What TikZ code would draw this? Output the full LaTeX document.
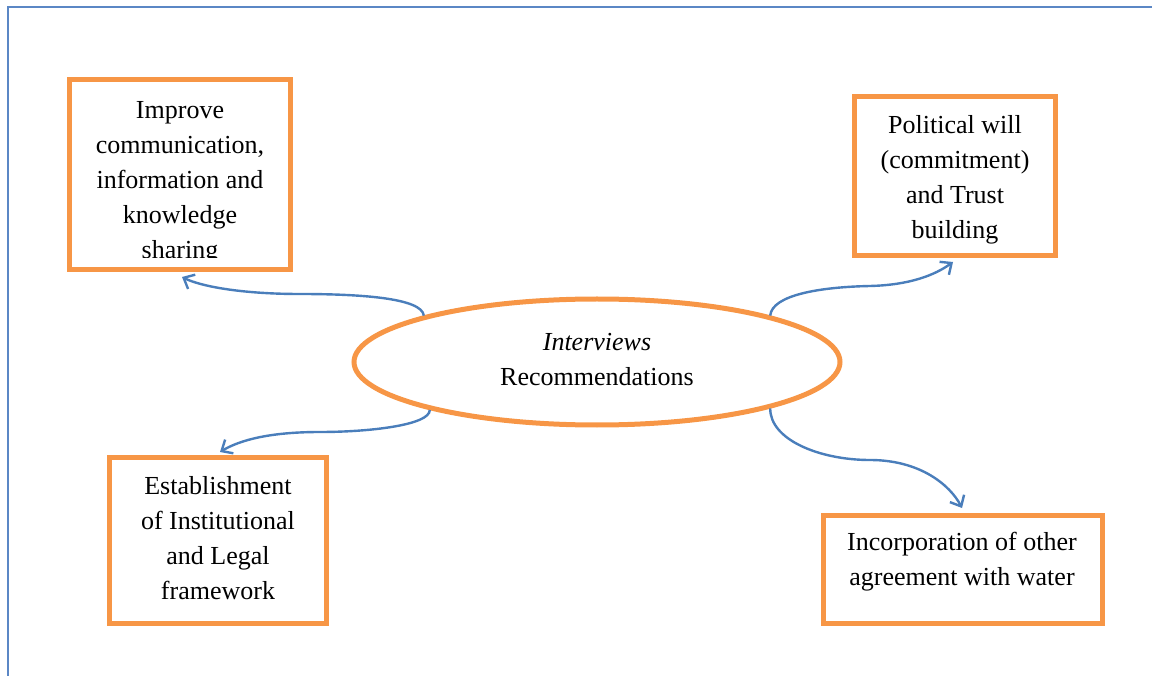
\documentclass[tikz,border=0pt]{standalone}
\usepackage{fontspec}
\setmainfont{Liberation Serif}
\usetikzlibrary{shapes.geometric,arrows.meta,calc}
\definecolor{ornge}{HTML}{F79646}
\definecolor{conblue}{HTML}{4A7EBB}
\definecolor{frameblue}{HTML}{5B87C5}
\tikzset{
  box/.style={draw=ornge, line width=5pt, rectangle, inner sep=0pt},
  txt/.style={align=center, inner sep=0pt, font=\fontsize{26}{35}\selectfont},
  conn/.style={draw=conblue, line width=2.4pt, -{Straight Barb[length=9pt,width=16pt,line width=2.4pt]}},
}
\begin{document}
\begin{tikzpicture}[x=1pt,y=-1pt]
\useasboundingbox (0,0) rectangle (1152,676);
% outer frame (only top and left edges are visible)
\draw[frameblue, line width=2pt] (8,690) -- (8,7) -- (1170,7);

% boxes
\node[box, minimum width=221pt, minimum height=190pt] (b1) at (179.5,175) {};
\node[box, minimum width=201pt, minimum height=159pt] (b2) at (954.5,176.5) {};
\node[box, minimum width=217pt, minimum height=166pt] (b3) at (217.5,540) {};
\node[box, minimum width=279pt, minimum height=108pt] (b4) at (962.5,569) {};

% texts
\begin{scope}
\clip (72,83) rectangle (288,258);
\node[txt] (t1) at (180,183) {Improve\\communication,\\information and\\knowledge\\sharing};
\end{scope}
\node[txt] (t2) at (955,180) {Political will\\(commitment)\\and Trust\\building};
\node[txt] (t3) at (218,538) {Establishment\\of Institutional\\and Legal\\framework};
\node[txt] (t4) at (962,562) {Incorporation of other\\agreement with water};

% ellipse
\node[draw=ornge, line width=5pt, ellipse, minimum width=486pt, minimum height=126pt, inner sep=0pt] (e) at (597,362) {};
\node[txt] (te) at (597,360) {\textit{Interviews}\\Recommendations};

% arrow end points
\coordinate (p1) at (182,277);
\coordinate (p2) at (953,262);
\coordinate (p3) at (220,452);
\coordinate (p4) at (962,508);

% connectors
\draw[conn] (e.165) .. controls (422,298) and (360,294) .. (300,294)
            .. controls (240,294) and (200,286) .. (p1);
\draw[conn] (e.15.8) .. controls (772,295) and (820,287) .. (870,286)
            .. controls (910,285) and (935,275) .. (p2);
\draw[conn] (e.196) .. controls (430,425) and (370,432) .. (320,432)
            .. controls (270,432) and (240,440) .. (p3);
\draw[conn] (e.345) .. controls (770,440) and (820,460) .. (870,460)
            .. controls (920,460) and (950,485) .. (p4);
\end{tikzpicture}
\end{document}
